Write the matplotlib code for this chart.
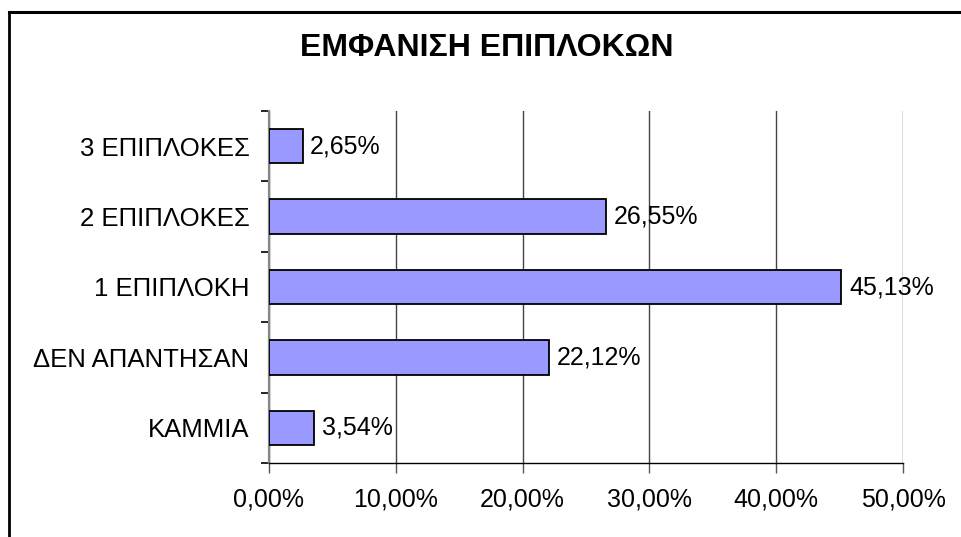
import matplotlib.pyplot as plt
from matplotlib.lines import Line2D
from matplotlib.ticker import FuncFormatter, FixedLocator

plt.rcParams['font.family'] = ['Liberation Sans', 'DejaVu Sans']

# Data (bottom to top)
categories = ['ΚΑΜΜΙΑ', 'ΔΕΝ ΑΠΑΝΤΗΣΑΝ', '1 ΕΠΙΠΛΟΚΗ', '2 ΕΠΙΠΛΟΚΕΣ', '3 ΕΠΙΠΛΟΚΕΣ']
values = [3.54, 22.12, 45.13, 26.55, 2.65]
title = 'ΕΜΦΑΝΙΣΗ ΕΠΙΠΛΟΚΩΝ'

fig = plt.figure(figsize=(9.61, 5.37), dpi=100)
ax = fig.add_axes([269 / 961, 1 - 463 / 537, (903 - 269) / 961, (463 - 111) / 537])

ypos = list(range(len(categories)))
bars = ax.barh(ypos, values, height=0.49, color='#9999ff', edgecolor='black',
               linewidth=1.3, zorder=3)
ax.bar_label(bars, labels=[f'{v:.2f}%'.replace('.', ',') for v in values],
             padding=5.5, fontsize=18)

ax.set_xlim(0, 50)
ax.set_ylim(-0.5, len(categories) - 0.5)
ax.set_xticks([0, 10, 20, 30, 40, 50])
ax.xaxis.set_major_formatter(FuncFormatter(lambda v, p: f'{v:.2f}%'.replace('.', ',')))
ax.set_yticks(ypos)
ax.set_yticklabels(categories)
ax.yaxis.set_minor_locator(FixedLocator([i - 0.5 for i in range(len(categories) + 1)]))

ax.tick_params(axis='y', which='major', length=0, pad=14, labelsize=18.5)
ax.tick_params(axis='y', which='minor', length=6, width=1.2, color='black')
ax.tick_params(axis='x', length=7, width=1, color='#555555', pad=11, labelsize=18)

ax.grid(axis='x', color='#444444', linewidth=1, zorder=0)
ax.set_axisbelow(True)
for s in ['top', 'right']:
    ax.spines[s].set_visible(False)
ax.spines['left'].set_color('#888888')
ax.spines['left'].set_linewidth(1.6)
ax.spines['bottom'].set_color('black')
ax.spines['bottom'].set_linewidth(1)

fig.text(487 / 961, 1 - 48 / 537, title, fontsize=23, fontweight='bold',
         ha='center', va='center')

# chart area border (top and left edges visible)
bx, by = 8.5 / 961, 1 - 12 / 537
fig.add_artist(Line2D([bx, 1.0], [by, by], transform=fig.transFigure,
                      color='black', linewidth=2.2, clip_on=False))
fig.add_artist(Line2D([bx, bx], [0.0, by], transform=fig.transFigure,
                      color='black', linewidth=2, clip_on=False,
                      solid_capstyle='projecting'))

fig.savefig('out.png', dpi=100)
